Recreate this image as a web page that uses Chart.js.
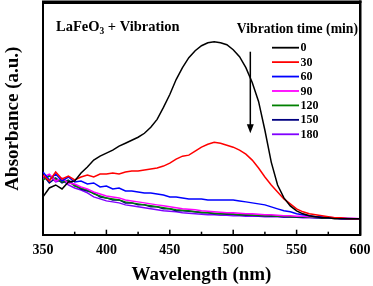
<!DOCTYPE html>
<html>
<head>
<meta charset="utf-8">
<script src="https://cdn.jsdelivr.net/npm/chart.js@4.4.1/dist/chart.umd.min.js"></script>
<style>
html,body{margin:0;padding:0;background:#fff;overflow:hidden;}
#wrap{width:373px;height:286px;position:relative;}
canvas{display:block;}
</style>
</head>
<body>
<div id="wrap"><canvas id="c" width="373" height="286"></canvas></div>
<script>
const wavelengths = [350,355,360,365,370,375,380,385,390,395,400,405,410,415,420,425,430,435,440,445,450,455,460,465,470,475,480,485,490,495,500,505,510,515,520,525,530,535,540,545,550,555,560,565,570,575,580,585,590,595,600];
const seriesLabels = ['0','30','60','90','120','150','180'];
const s0   = [38,47,50,46,53,54,62,68,75,79,82,85,89,92,95,98,102,108,116,128,141,156,168,178,185,190,193,194,193,191,186,179,168,153,134,105,73,50,37,29,24,21,19,18,17,17,16,16,16,16,16];
const s30  = [60,54,63,56,59,55,58,60,58,61,61,62,61,63,64,64,65,66,67,69,72,76,79,80,84,88,91,93,92,90,88,85,81,75,67,58,50,43,36,31,26,23,21,20,19,18,17,17,16,16,16];
const s60  = [63,55,61,54,58,53,54,51,52,48,49,46,47,44,44,43,42,42,41,40,38,38,37,36,36,36,35,35,35,35,35,34,33,32,31,30,28,26,24,23,21,20,19,18,18,17,17,16,16,16,16];
const s90  = [58,61,54,57,52,51,48,46,43,41,39,38,37,35,34,33,32,31,30,29,28,27,26,25.5,25,24,23.5,23,22.5,22,22,21.5,21,21,20.5,20,20,19.5,19,19,18.5,18.5,18,18,17.5,17.5,17,17,16.5,16.5,16];
const s120 = [55,59,56,53,54,49,47,45,41,39,37,36,35,33,32,31,30,29,28,27,26,25,24.5,24,23,22.5,22,21.5,21,21,20.5,20,20,19.5,19.5,19,19,18.5,18.5,18,18,18,17.5,17.5,17,17,17,16.5,16.5,16,16];
const s150 = [60,52,57,52,55,50,46,44,42,38,37,35,35,32,32,30,30,28,28,26,26,24,24,23.5,23,22,22,21,21,20.5,20.5,20,19.5,19.5,19,19,18.5,18.5,18,18,17.5,17.5,17.5,17,17,17,16.5,16.5,16,16,16];
const s180 = [56,60,53,55,50,47,45,42,38,36,34,33,32,30,29,28,27,26,25,24,23.5,23,22,21.5,21,20.5,20,20,19.5,19.5,19,19,18.5,18.5,18.5,18,18,18,17.5,17.5,17.5,17,17,17,16.5,16.5,16.5,16,16,16,16];
const seriesValues = [s0,s30,s60,s90,s120,s150,s180];
const seriesColors = ['#000000','#ff0000','#0000ff','#ff00ff','#008000','#000080','#8000ff'];
const xTickValues = [350,400,450,500,550,600];

const SERIF = '"Liberation Serif", "Times New Roman", serif';

const datasets = seriesValues.map((vals, i) => ({
  label: seriesLabels[i],
  data: vals.map((v, j) => ({x: wavelengths[j], y: v})),
  borderColor: seriesColors[i],
  backgroundColor: seriesColors[i],
  borderWidth: 1.5,
  pointRadius: 0,
  tension: 0,
  fill: false
}));

const decor = {
  id: 'decor',
  afterDraw(chart) {
    const ctx = chart.ctx;
    const x = chart.scales.x, y = chart.scales.y;
    const a = chart.chartArea;
    const B = a.bottom;
    ctx.save();
    ctx.fillStyle = '#000000';
    // top and right frame edges, reinforced
    ctx.fillRect(a.left - 1, a.top - 2, a.right - a.left + 2.5, 2.5);
    ctx.fillRect(a.right - 1, a.top - 2, 2.5, a.bottom - a.top + 3);
    // inward ticks on the bottom axis
    for (let v = 375; v < 600; v += 25) {
      const px = x.getPixelForValue(v);
      const len = xTickValues.includes(v) ? 5 : 3;
      ctx.fillRect(px - 0.75, B - len, 1.5, len);
    }
    // arrow
    const ax = x.getPixelForValue(513.5);
    const ay1 = y.getPixelForValue(184);
    const ay2 = y.getPixelForValue(102);
    ctx.fillRect(ax - 0.75, ay1, 1.5, ay2 - 6 - ay1);
    ctx.beginPath();
    ctx.moveTo(ax - 3.5, ay2 - 9);
    ctx.lineTo(ax + 3.5, ay2 - 9);
    ctx.lineTo(ax, ay2);
    ctx.closePath();
    ctx.fill();
    // sample label
    ctx.textBaseline = 'middle';
    ctx.textAlign = 'left';
    ctx.font = 'bold 14.5px ' + SERIF;
    let tx = 56, ty = 27;
    ctx.fillText('LaFeO', tx, ty);
    tx += ctx.measureText('LaFeO').width;
    ctx.font = 'bold 9.5px ' + SERIF;
    ctx.fillText('3', tx, ty + 5);
    tx += ctx.measureText('3').width;
    ctx.font = 'bold 14.5px ' + SERIF;
    ctx.fillText(' + Vibration', tx, ty);
    // legend
    ctx.font = 'bold 13.7px ' + SERIF;
    ctx.textAlign = 'right';
    ctx.fillText('Vibration time (min)', 358, 29);
    ctx.textAlign = 'left';
    ctx.font = 'bold 12px ' + SERIF;
    chart.data.datasets.forEach((ds, i) => {
      const ly = 47.7 + i * 14.43;
      ctx.strokeStyle = ds.borderColor;
      ctx.lineWidth = 1.8;
      ctx.beginPath();
      ctx.moveTo(272, ly);
      ctx.lineTo(299, ly);
      ctx.stroke();
      ctx.fillStyle = '#000';
      ctx.fillText(ds.label, 300.5, ly + 0.5);
    });
    ctx.restore();
  }
};

const borderOpt = {display: true, color: '#000000', width: 2};

new Chart(document.getElementById('c'), {
  type: 'line',
  data: {datasets},
  options: {
    responsive: false,
    animation: false,
    devicePixelRatio: 1,
    layout: {padding: {top: 2.5, right: 13, left: 0, bottom: 0}},
    plugins: {legend: {display: false}, tooltip: {enabled: false}},
    scales: {
      x: {
        type: 'linear',
        position: 'bottom',
        min: 350, max: 600,
        grid: {display: false, drawTicks: false},
        border: borderOpt,
        ticks: {
          stepSize: 25,
          autoSkip: false,
          maxRotation: 0,
          padding: 7,
          color: '#000',
          font: {family: SERIF, size: 14, weight: 'bold'},
          callback: v => xTickValues.includes(v) ? String(v) : ''
        },
        title: {
          display: true,
          text: 'Wavelength (nm)',
          color: '#000',
          font: {family: SERIF, size: 19, weight: 'bold'},
          padding: {top: 0, bottom: 0}
        },
        afterFit(s) { s.height = 51.3; s.paddingLeft = 0; s.paddingRight = 0; }
      },
      x2: {
        type: 'linear',
        position: 'top',
        min: 350, max: 600,
        grid: {display: false, drawTicks: false},
        border: borderOpt,
        ticks: {display: false}
      },
      y: {
        position: 'left',
        min: 0, max: 233.5,
        grid: {display: false, drawTicks: false},
        border: borderOpt,
        ticks: {display: false},
        title: {
          display: true,
          text: 'Absorbance (a.u.)',
          color: '#000',
          font: {family: SERIF, size: 19, weight: 'bold'},
          padding: {top: 2, bottom: 0}
        },
        afterFit(s) { s.width = 43; }
      },
      y2: {
        position: 'right',
        min: 0, max: 233.5,
        grid: {display: false, drawTicks: false},
        border: borderOpt,
        ticks: {display: false}
      }
    }
  },
  plugins: [decor]
});
</script>
</body>
</html>
